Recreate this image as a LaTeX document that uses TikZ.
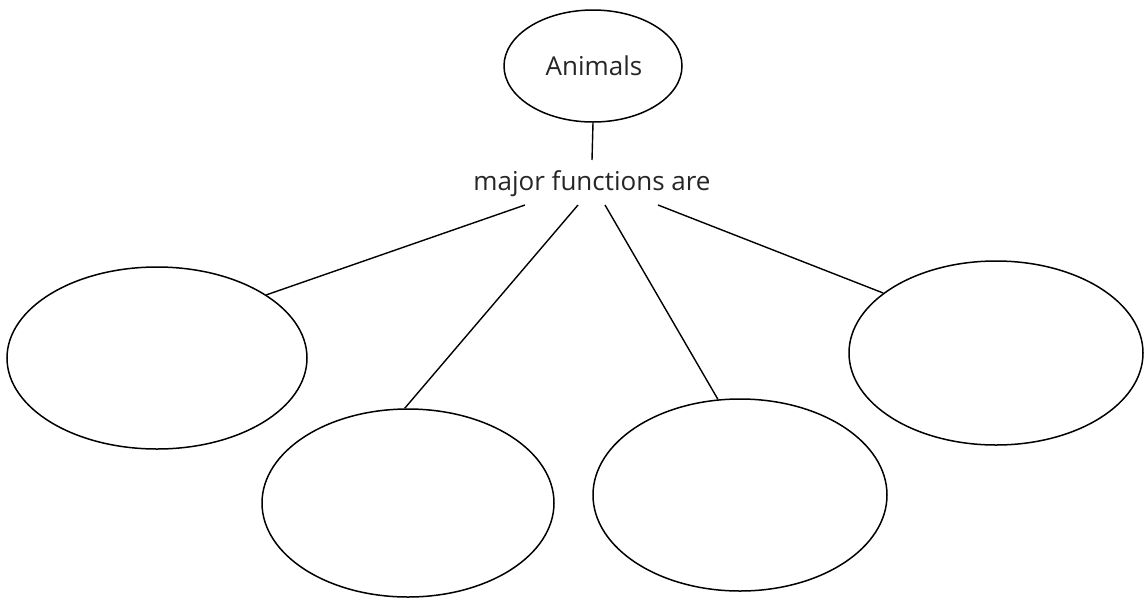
\documentclass[tikz,border=0pt]{standalone}
\usepackage{fontspec}
\setmainfont{Open Sans}
\usetikzlibrary{shapes.geometric}
\begin{document}
\begin{tikzpicture}[x=1pt,y=-1pt,
  oval/.style={draw=black, line width=1.5pt, ellipse, inner sep=0pt},
  conn/.style={draw=black, line width=1.4pt},
  lbl/.style={font=\fontsize{26}{30}\selectfont, text=black!85, inner sep=0pt}]
\useasboundingbox[fill=white] (0,0) rectangle (1144,598);
\node[oval, minimum width=178pt, minimum height=112pt] (animals) at (593,66) {};
\node[lbl, anchor=base] (animalsText) at (594,75) {Animals};
\node[lbl, anchor=base] (mf) at (592,190) {major functions are};
\node[oval, minimum width=300pt, minimum height=182pt] (e1) at (157,358) {};
\node[oval, minimum width=292pt, minimum height=188pt] (e2) at (408,503) {};
\node[oval, minimum width=294pt, minimum height=192pt] (e3) at (740,495) {};
\node[oval, minimum width=294pt, minimum height=184pt] (e4) at (996,353) {};
\coordinate (t0) at (592,160);
\coordinate (l1) at (525,205);
\coordinate (l2) at (578,205);
\coordinate (l3) at (605,205);
\coordinate (l4) at (658,205);
\draw[conn] (animals.south) -- (t0);
\draw[conn] (l1) -- (e1.30);
\draw[conn] (l2) -- (e2.92);
\draw[conn] (l3) -- (e3.103);
\draw[conn] (l4) -- (e4.152);
\end{tikzpicture}
\end{document}
